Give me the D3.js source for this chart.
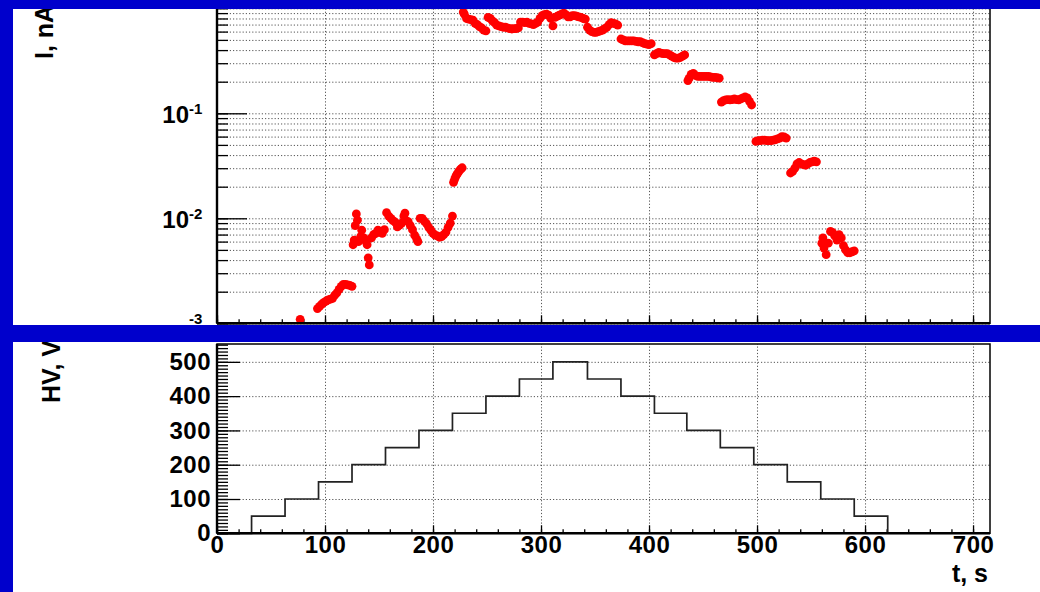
<!DOCTYPE html>
<html lang="en">
<head>
<meta charset="UTF-8">
<title>I, HV vs t</title>
<style>
  body { margin: 0; background: #0000cc; }
  svg { display: block; font-family: "Liberation Sans", Arial, sans-serif; font-weight: bold; }
  .grid path { display: none; }
  .grid line { stroke: #555; stroke-width: 1; stroke-dasharray: 1.2 2; }
  .tk path { display: none; }
  .tk line { stroke: #000; stroke-width: 1.3; }
  .lab path, .lab line { display: none; }
  .lab text { font-size: 24px; font-weight: bold; fill: #000; letter-spacing: 0.5px; font-family: "Liberation Sans", Arial, sans-serif; }
</style>
</head>
<body>
<script src="https://cdn.jsdelivr.net/npm/d3@7"></script>
<svg id="chart" width="1040" height="592"></svg>
<script>
  // current, nA (one line per HV step)
  let tCur = [
    77, 93, 95, 97, 99, 101, 103, 105, 107, 109, 111, 113, 115, 117, 119, 121, 123, 125,
    126, 127, 128, 129, 130, 131, 133, 134, 136, 138, 139, 140, 141, 143, 145, 147, 149, 151, 153, 155,
    157, 159, 161, 163, 165, 167, 169, 171, 173, 174, 175, 177, 179, 181, 183, 185, 186,
    188, 190, 192, 194, 196, 198, 200, 202, 204, 206, 208, 210, 212, 214, 216, 218,
    219, 220, 221, 222, 223, 224, 225, 226, 227,
    228, 229, 231, 233, 235, 237, 239, 241, 243, 245, 247, 249,
    251, 253, 255, 257, 259, 261, 263, 265, 267, 269, 271, 273, 275, 277, 279,
    281, 283, 285, 287, 289, 291, 293, 295, 297, 299, 301, 303, 305, 307, 309, 311,
    313, 315, 317, 319, 321, 323, 325, 327, 329, 331, 333, 335, 337, 339, 341,
    343, 345, 347, 349, 351, 353, 355, 357, 359, 361, 363, 365, 367, 369, 371,
    374, 376, 378, 380, 382, 384, 386, 388, 390, 392, 394, 396, 398, 400, 402,
    405, 407, 409, 411, 413, 415, 417, 419, 421, 423, 425, 427, 429, 431, 433,
    436, 437, 439, 441, 443, 445, 447, 449, 451, 453, 455, 457, 459, 461, 463, 465,
    467, 469, 471, 473, 475, 477, 479, 481, 483, 485, 487, 489, 491, 493, 495,
    499, 501, 503, 505, 507, 509, 511, 513, 515, 517, 519, 521, 523, 525, 527,
    531, 533, 535, 537, 539, 541, 543, 545, 547, 549, 551, 553, 555,
    560, 561, 562, 564, 566, 568, 570, 572, 574, 576, 578, 580, 582, 584, 586, 588, 590
  ]
  let iCur = [
    1.09e-3, 1.38e-3, 1.45e-3, 1.52e-3, 1.58e-3, 1.63e-3, 1.67e-3, 1.7e-3, 1.73e-3, 1.85e-3, 1.95e-3, 2.1e-3, 2.25e-3, 2.35e-3, 2.35e-3, 2.32e-3, 2.3e-3, 2.25e-3,
    5.6e-3, 6.2e-3, 8.5e-3, 1.1e-2, 9.6e-3, 6.0e-3, 6.7e-3, 7.7e-3, 6.5e-3, 6.0e-3, 5.6e-3, 4.2e-3, 3.6e-3, 6.5e-3, 7.0e-3, 7.2e-3, 7.7e-3, 7.4e-3, 7.2e-3, 7.8e-3,
    1.13e-2, 1.05e-2, 1.0e-2, 9.5e-3, 9.2e-3, 8.3e-3, 8.6e-3, 9.0e-3, 1.05e-2, 1.12e-2, 9.5e-3, 9.3e-3, 8.5e-3, 7.8e-3, 6.9e-3, 6.3e-3, 6.0e-3,
    1.0e-2, 1.0e-2, 9.4e-3, 8.9e-3, 8.2e-3, 7.7e-3, 7.2e-3, 6.9e-3, 6.8e-3, 6.6e-3, 6.7e-3, 7.0e-3, 7.4e-3, 8.2e-3, 9.0e-3, 1.05e-2,
    2.2e-2, 2.35e-2, 2.5e-2, 2.6e-2, 2.7e-2, 2.8e-2, 2.9e-2, 2.95e-2, 3.03e-2,
    0.92, 0.88, 0.80, 0.79, 0.78, 0.77, 0.72, 0.70, 0.67, 0.65, 0.62, 0.61,
    0.82, 0.80, 0.76, 0.73, 0.69, 0.68, 0.67, 0.66, 0.66, 0.65, 0.64, 0.635, 0.64, 0.64, 0.65,
    0.74, 0.74, 0.73, 0.74, 0.72, 0.71, 0.70, 0.72, 0.74, 0.80, 0.85, 0.87, 0.88, 0.86, 0.80, 0.68,
    0.82, 0.84, 0.86, 0.88, 0.90, 0.87, 0.83, 0.83, 0.85, 0.85, 0.84, 0.83, 0.82, 0.80, 0.79,
    0.66, 0.62, 0.60, 0.59, 0.59, 0.60, 0.61, 0.62, 0.64, 0.66, 0.70, 0.73, 0.72, 0.71, 0.69,
    0.51, 0.50, 0.49, 0.49, 0.49, 0.49, 0.49, 0.485, 0.48, 0.48, 0.47, 0.46, 0.455, 0.45, 0.46,
    0.36, 0.37, 0.38, 0.375, 0.37, 0.37, 0.37, 0.36, 0.35, 0.34, 0.335, 0.335, 0.34, 0.35, 0.36,
    0.205, 0.215, 0.235, 0.24, 0.23, 0.225, 0.225, 0.225, 0.225, 0.225, 0.225, 0.222, 0.22, 0.22, 0.218, 0.216,
    0.128, 0.132, 0.134, 0.135, 0.134, 0.135, 0.137, 0.135, 0.134, 0.137, 0.14, 0.143, 0.14, 0.13, 0.12,
    0.054, 0.055, 0.055, 0.0555, 0.0555, 0.055, 0.055, 0.055, 0.0555, 0.056, 0.057, 0.058, 0.06, 0.0595, 0.058,
    0.027, 0.028, 0.030, 0.033, 0.034, 0.033, 0.0325, 0.032, 0.033, 0.034, 0.0345, 0.035, 0.0345,
    5.8e-3, 6.5e-3, 5.2e-3, 4.5e-3, 5.8e-3, 7.5e-3, 7.3e-3, 6.8e-3, 6.2e-3, 7.0e-3, 6.5e-3, 5.5e-3, 5.0e-3, 4.7e-3, 4.7e-3, 4.8e-3, 4.9e-3
  ]

  // high voltage steps: start time of each level and its value
  let hvT = [0, 32, 63, 94, 125, 156, 187, 218, 249, 280, 311, 343, 374, 405, 435, 466, 497, 528, 559, 590, 621]
  let hvV = [0, 50, 100, 150, 200, 250, 300, 350, 400, 450, 500, 450, 400, 350, 300, 250, 200, 150, 100, 50, 0]

  // ticks
  let tTicks = [0, 100, 200, 300, 400, 500, 600, 700]
  let tMinor = d3.range(0, 716, 20)
  let hvTicks = [0, 100, 200, 300, 400, 500]
  let hvMinor = d3.range(0, 551, 10)
  let decExp = [-1, -2, -3]
  let logTicks = []
  ;[1e-3, 1e-2, 1e-1].forEach(d => { for (let k = 1; k < 10; k++) logTicks.push(d * k) })
  logTicks.push(1)

  let L = 217, R = 990
  let yT0 = 8.3, yT1 = 323.3
  let yB0 = 344, yB1 = 533.3

  let x = d3.scaleLinear().domain([0, 715.7]).range([L, R])
  let yI = d3.scaleLog().domain([1e-3, 1]).range([yT1, yT0])
  let yV = d3.scaleLinear().domain([0, 552]).range([yB1, yB0])

  let svg = d3.select('#chart')
  let defs = svg.append('defs')
  defs.append('clipPath').attr('id', 'clipTop')
    .append('rect').attr('x', 13).attr('y', 9).attr('width', 1027).attr('height', 316)
  defs.append('clipPath').attr('id', 'clipBot')
    .append('rect').attr('x', 13).attr('y', 342).attr('width', 1027).attr('height', 250)

  // white panels
  svg.append('rect').attr('x', 13).attr('y', 9).attr('width', 1027).attr('height', 316).attr('fill', '#fff')
  svg.append('rect').attr('x', 13).attr('y', 342).attr('width', 1027).attr('height', 250).attr('fill', '#fff')

  // ---------- top panel: current ----------
  let gt = svg.append('g').attr('clip-path', 'url(#clipTop)')

  gt.append('g').attr('class', 'grid')
    .attr('transform', `translate(${L},0)`)
    .call(d3.axisLeft(yI).tickValues(logTicks).tickSize(-(R - L)).tickFormat(''))
  gt.append('g').attr('class', 'grid')
    .attr('transform', `translate(0,${yT1})`)
    .call(d3.axisBottom(x).tickValues(tTicks.slice(1)).tickSize(-(yT1 - yT0)).tickFormat(''))

  gt.append('g').attr('class', 'tk')
    .attr('transform', `translate(${L},0)`)
    .call(d3.axisLeft(yI).tickValues(logTicks).tickSize(-11).tickFormat(''))
  gt.append('g').attr('class', 'tk')
    .attr('transform', `translate(${L},0)`)
    .call(d3.axisLeft(yI).tickValues(decExp.map(e => Math.pow(10, e))).tickSize(-30).tickFormat(''))
  gt.append('g').attr('class', 'tk')
    .attr('transform', `translate(0,${yT1})`)
    .call(d3.axisBottom(x).tickValues(tMinor).tickSize(-4).tickFormat(''))
  gt.append('g').attr('class', 'tk')
    .attr('transform', `translate(0,${yT1})`)
    .call(d3.axisBottom(x).tickValues(tTicks).tickSize(-8).tickFormat(''))

  gt.append('g')
    .selectAll('circle')
    .data(tCur.map((t, i) => [t, iCur[i]]))
    .enter()
    .append('circle')
    .attr('cx', d => x(d[0]))
    .attr('cy', d => yI(d[1]))
    .attr('r', 4.4)
    .attr('fill', '#ff0000')

  gt.append('rect').attr('x', L).attr('y', yT0).attr('width', R - L).attr('height', yT1 - yT0)
    .attr('fill', 'none').attr('stroke', '#000').attr('stroke-width', 1.5)
  gt.append('line').attr('x1', L).attr('x2', L).attr('y1', yT0).attr('y2', yT1)
    .attr('stroke', '#000').attr('stroke-width', 2.4)
  gt.append('line').attr('x1', L).attr('x2', R).attr('y1', yT1).attr('y2', yT1)
    .attr('stroke', '#000').attr('stroke-width', 2.4)

  // decade labels 10^n (the "10" of the lowest one falls under the band)
  decExp.forEach(e => {
    let yy = yI(Math.pow(10, e))
    if (e > -3) {
      gt.append('text').attr('x', 189).attr('y', yy + 9.5)
        .attr('text-anchor', 'end').attr('font-size', 24).text('10')
    }
    gt.append('text').attr('x', 189).attr('y', yy + 0.5)
      .attr('font-size', 15).text(String(e))
  })

  gt.append('text')
    .attr('transform', 'translate(53,59) rotate(-90)')
    .attr('font-size', 25)
    .text('I, nA')

  // ---------- bottom panel: HV ----------
  let gb = svg.append('g').attr('clip-path', 'url(#clipBot)')

  gb.append('g').attr('class', 'grid')
    .attr('transform', `translate(${L},0)`)
    .call(d3.axisLeft(yV).tickValues(hvTicks.slice(1)).tickSize(-(R - L)).tickFormat(''))
  gb.append('g').attr('class', 'grid')
    .attr('transform', `translate(0,${yB1})`)
    .call(d3.axisBottom(x).tickValues(tTicks.slice(1)).tickSize(-(yB1 - yB0)).tickFormat(''))

  gb.append('g').attr('class', 'tk')
    .attr('transform', `translate(${L},0)`)
    .call(d3.axisLeft(yV).tickValues(hvMinor).tickSize(-11).tickFormat(''))
  gb.append('g').attr('class', 'tk')
    .attr('transform', `translate(${L},0)`)
    .call(d3.axisLeft(yV).tickValues(hvTicks).tickSize(-23).tickFormat(''))
  gb.append('g').attr('class', 'tk')
    .attr('transform', `translate(0,${yB1})`)
    .call(d3.axisBottom(x).tickValues(tMinor).tickSize(-4).tickFormat(''))
  gb.append('g').attr('class', 'tk')
    .attr('transform', `translate(0,${yB1})`)
    .call(d3.axisBottom(x).tickValues(tTicks).tickSize(-8).tickFormat(''))

  let hvLine = d3.line()
    .x(d => x(d[0]))
    .y(d => yV(d[1]))
    .curve(d3.curveStepAfter)
  gb.append('path')
    .datum(hvT.map((t, i) => [t, hvV[i]]))
    .attr('d', hvLine)
    .attr('fill', 'none')
    .attr('stroke', '#222')
    .attr('stroke-width', 1.7)

  gb.append('rect').attr('x', L).attr('y', yB0).attr('width', R - L).attr('height', yB1 - yB0)
    .attr('fill', 'none').attr('stroke', '#000').attr('stroke-width', 1.5)
  gb.append('line').attr('x1', L).attr('x2', L).attr('y1', yB0).attr('y2', yB1)
    .attr('stroke', '#000').attr('stroke-width', 2.4)
  gb.append('line').attr('x1', L).attr('x2', R).attr('y1', yB1).attr('y2', yB1)
    .attr('stroke', '#000').attr('stroke-width', 2.4)

  gb.append('g').attr('class', 'lab')
    .attr('transform', `translate(${L},0)`)
    .call(d3.axisLeft(yV).tickValues(hvTicks).tickSize(0).tickPadding(6))
  gb.append('g').attr('class', 'lab')
    .attr('transform', `translate(0,${yB1})`)
    .call(d3.axisBottom(x).tickValues(tTicks).tickSize(0).tickPadding(3))

  gb.append('text')
    .attr('transform', 'translate(60,403) rotate(-90)')
    .attr('font-size', 25)
    .text('HV, V')
  gb.append('text')
    .attr('x', 988).attr('y', 582)
    .attr('text-anchor', 'end')
    .attr('font-size', 25)
    .text('t, s')
</script>
</body>
</html>
